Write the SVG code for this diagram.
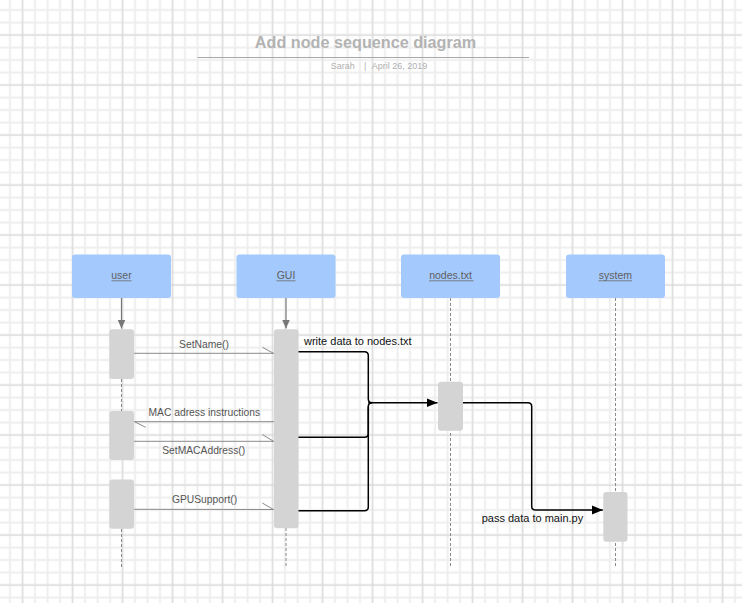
<svg xmlns="http://www.w3.org/2000/svg" width="742" height="603" viewBox="0 0 742 603">
<style>
.hdr{fill:#a4c9fd}
.hlbl{font-family:"Liberation Sans",Arial,sans-serif;font-size:10.5px;fill:#5e5e5e;text-anchor:middle}
.ul{stroke:#6a6a6a;stroke-width:0.8}
.act{fill:#d4d4d4}
.life{stroke:#8a8a8a;stroke-width:1;stroke-dasharray:3,2;fill:none}
.msg{stroke:#8a8a8a;stroke-width:1;fill:none}
.mlbl{font-family:"Liberation Sans",Arial,sans-serif;font-size:10.3px;fill:#555;text-anchor:middle}
.conn{stroke:#000;stroke-width:1.5;fill:none}
.clbl{font-family:"Liberation Sans",Arial,sans-serif;font-size:11px;fill:#111}
</style>
<defs>
<pattern id="grid" x="3.75" y="3.75" width="50" height="50" patternUnits="userSpaceOnUse">
<g stroke="#eeeeee" stroke-width="2">
<line x1="6.25" y1="0" x2="6.25" y2="50"/><line x1="18.75" y1="0" x2="18.75" y2="50"/><line x1="31.25" y1="0" x2="31.25" y2="50"/><line x1="43.75" y1="0" x2="43.75" y2="50"/>
<line x1="0" y1="6.25" x2="50" y2="6.25"/><line x1="0" y1="18.75" x2="50" y2="18.75"/><line x1="0" y1="31.25" x2="50" y2="31.25"/><line x1="0" y1="43.75" x2="50" y2="43.75"/>
</g>
<g stroke="#d6d6d6" stroke-width="1">
<line x1="18.75" y1="0" x2="18.75" y2="50"/>
<line x1="0" y1="31.25" x2="50" y2="31.25"/>
</g>
</pattern>
<marker id="garrow" markerUnits="userSpaceOnUse" markerWidth="10" markerHeight="10" refX="9" refY="4" orient="auto">
<path d="M0,0 L9,4 L0,8 Z" fill="#777"/>
</marker>
<marker id="barrow" markerUnits="userSpaceOnUse" markerWidth="12" markerHeight="12" refX="11" refY="5" orient="auto">
<path d="M0,0.5 L11,5 L0,9.5 Z" fill="#000"/>
</marker>
</defs>
<rect width="742" height="603" fill="#fff"/>
<rect width="742" height="603" fill="url(#grid)"/>

<g id="title">
<text x="365.5" y="48" text-anchor="middle" font-family="'Liberation Sans',Arial,sans-serif" font-size="16.2px" font-weight="bold" fill="#b3b3b3">Add node sequence diagram</text>
<line x1="197.5" y1="57.5" x2="529" y2="57.5" stroke="#a8a8a8" stroke-width="1"/>
<text y="68.5" font-family="'Liberation Sans',Arial,sans-serif" font-size="9px" fill="#b0b0b0"><tspan x="330.7">Sarah</tspan><tspan x="364">|</tspan><tspan x="371.7">April 26, 2019</tspan></text>
</g>

<g id="lifelines">
<line class="life" x1="121.5" y1="379" x2="121.5" y2="411"/>
<line class="life" x1="121.5" y1="529" x2="121.5" y2="567"/>
<line class="life" x1="286" y1="528" x2="286" y2="567"/>
<line class="life" x1="450.5" y1="298" x2="450.5" y2="567"/>
<line class="life" x1="615.5" y1="298" x2="615.5" y2="567"/>
<line x1="121.5" y1="298" x2="121.5" y2="328.5" stroke="#777" stroke-width="1.2" marker-end="url(#garrow)"/>
<line x1="286" y1="298" x2="286" y2="328.5" stroke="#777" stroke-width="1.2" marker-end="url(#garrow)"/>
</g>

<g id="user">
<rect class="hdr" x="72" y="254.5" width="99" height="43.5" rx="3"/>
<text class="hlbl" x="121.5" y="279">user</text>
<line class="ul" x1="111.5" y1="280.8" x2="131.5" y2="280.8"/>
<rect class="act" x="109.3" y="329.3" width="24.7" height="49.7" rx="3"/>
<rect class="act" x="109.3" y="411" width="24.7" height="49" rx="3"/>
<rect class="act" x="109.3" y="479.5" width="24.7" height="49.2" rx="3"/>
</g>

<g id="gui">
<rect class="hdr" x="236.5" y="254.5" width="99" height="43.5" rx="3"/>
<text class="hlbl" x="286" y="279">GUI</text>
<line class="ul" x1="276.5" y1="280.8" x2="295.5" y2="280.8"/>
<rect class="act" x="274" y="329.3" width="24.5" height="199" rx="3"/>
</g>

<g id="nodes">
<rect class="hdr" x="401" y="254.5" width="99" height="43.5" rx="3"/>
<text class="hlbl" x="450.5" y="279">nodes.txt</text>
<line class="ul" x1="429" y1="280.8" x2="473.5" y2="280.8"/>
<rect class="act" x="438" y="381.7" width="25" height="49" rx="3"/>
</g>

<g id="system">
<rect class="hdr" x="566" y="254.5" width="99" height="43.5" rx="3"/>
<text class="hlbl" x="615.5" y="279">system</text>
<line class="ul" x1="598.5" y1="280.8" x2="632" y2="280.8"/>
<rect class="act" x="603.3" y="492" width="24.2" height="49.7" rx="3"/>
</g>

<g id="connectors">
<line class="msg" x1="134" y1="353.3" x2="274" y2="353.3"/>
<line class="msg" x1="262.5" y1="347.3" x2="273.5" y2="353.3"/>
<text class="mlbl" x="204" y="348">SetName()</text>

<line class="msg" x1="134" y1="421.7" x2="274" y2="421.7"/>
<line class="msg" x1="134.5" y1="421.7" x2="145.7" y2="427.3"/>
<text class="mlbl" x="204.3" y="416">MAC adress instructions</text>

<line class="msg" x1="134" y1="441.3" x2="274" y2="441.3"/>
<line class="msg" x1="262.3" y1="434.5" x2="273.5" y2="441.3"/>
<text class="mlbl" x="203.7" y="454">SetMACAddress()</text>

<line class="msg" x1="134" y1="509.3" x2="274" y2="509.5"/>
<line class="msg" x1="262.3" y1="503" x2="273.5" y2="509.5"/>
<text class="mlbl" x="204.5" y="503.3">GPUSupport()</text>

<path class="conn" d="M298.5,351.7 H364.5 Q368.3,351.7 368.3,355.5 V398.9 Q368.3,402.7 372.1,402.7"/>
<path class="conn" d="M298.5,437.3 H364.5 Q368.3,437.3 368.3,433.5 V406.5 Q368.3,402.7 372.1,402.7"/>
<path class="conn" d="M298.5,510.7 H364.5 Q368.3,510.7 368.3,506.9 V406.5"/>
<line class="conn" x1="368.3" y1="402.7" x2="437.5" y2="402.7" marker-end="url(#barrow)"/>
<text class="clbl" x="304" y="345">write data to nodes.txt</text>

<path class="conn" d="M463,402.7 H527.9 Q531.7,402.7 531.7,406.5 V506.2 Q531.7,510 535.5,510 H602.8" marker-end="url(#barrow)"/>
<text class="clbl" x="481.7" y="521.7">pass data to main.py</text>
</g>
</svg>
